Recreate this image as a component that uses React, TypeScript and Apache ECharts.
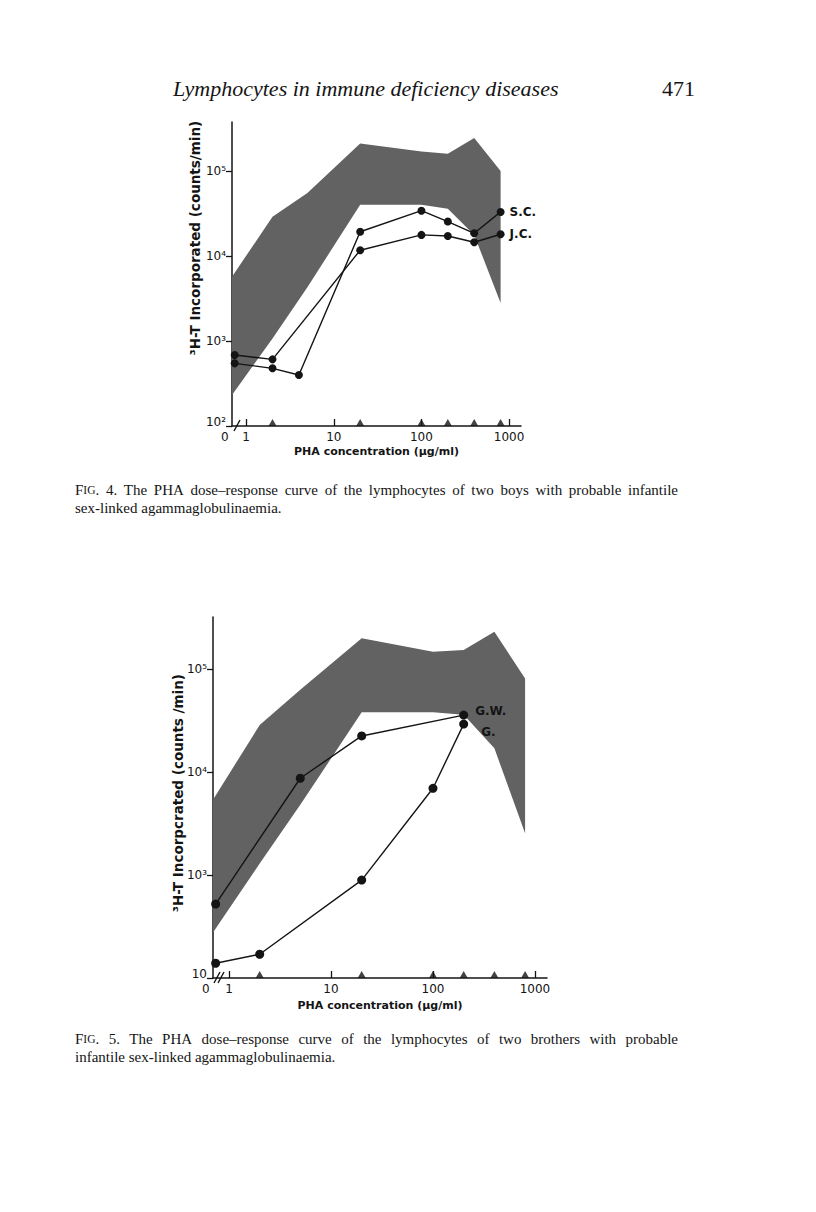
import React, { useEffect, useRef } from 'react';
import * as echarts from 'echarts';

// ---------- data ----------
const DOSE_TICKS = [1, 10, 100, 1000];
const ZERO_DOSE = 0.74; // plotting position of the "0" (no PHA) dose, left of the axis break
const TRIANGLE_DOSES = [2, 20, 100, 200, 400, 800];
const Y_TICKS = [100, 1000, 10000, 100000];
const F4_Y_LABELS = ['10²', '10³', '10⁴', '10⁵'];
const F5_Y_LABELS = ['10', '10³', '10⁴', '10⁵'];

// normal range band (doses)
const BAND_X = [0.69, 2, 5, 20, 100, 200, 400, 800];
// Fig. 4
const F4_BAND_HI = [5700, 29000, 55000, 210000, 170000, 160000, 245000, 100000];
const F4_BAND_LO = [232, 1070, 4300, 40000, 40000, 36000, 17700, 2800];
const F4_SC_X = [ZERO_DOSE, 2, 4, 20, 100, 200, 400, 800];
const F4_SC_Y = [546, 477, 398, 19300, 34100, 25400, 18500, 33000];
const F4_JC_X = [ZERO_DOSE, 2, 20, 100, 200, 400, 800];
const F4_JC_Y = [684, 608, 11700, 17700, 17200, 14500, 18000];
// Fig. 5
const F5_BAND_HI = [5300, 28600, 63000, 199000, 147000, 153000, 230000, 81000];
const F5_BAND_LO = [272, 1290, 4800, 38000, 38000, 36000, 17000, 2540];
const F5_A_X = [ZERO_DOSE, 5, 20, 200];
const F5_A_Y = [522, 8700, 22400, 35700];
const F5_B_X = [ZERO_DOSE, 2, 20, 100, 200];
const F5_B_Y = [139, 170, 893, 6950, 29200];

const CAP4_L1 = 'The PHA dose–response curve of the lymphocytes of two boys with probable infantile';
const CAP4_L2 = 'sex-linked agammaglobulinaemia.';
const CAP5_L1 = 'The PHA dose–response curve of the lymphocytes of two brothers with probable';
const CAP5_L2 = 'infantile sex-linked agammaglobulinaemia.';

// ---------- layout ----------
const G1 = { left: 232, top: 122, width: 289, height: 304 };
const G2 = { left: 213, top: 617, width: 334, height: 361 };
const X1 = { min: 0.69, max: 1367 };
const X2 = { min: 0.697, max: 1312 };
const Y1MAX = 377000;
const Y2MAX = 320000;

const SANS = '"DejaVu Sans", "Liberation Sans", sans-serif';
const SERIF_NAME = 'Liberation Serif';
const SERIF = '"Liberation Serif", "Times New Roman", serif';
const INK = '#141414';
const CAP_SIZE = 15;
const SC_SIZE = 11.5;
const CAP_X0 = 75;
const CAP_X1 = 678;

function zip(xs: number[], ys: number[]) {
  return xs.map((x, i) => [x, ys[i]]);
}

let measureCtx: CanvasRenderingContext2D | null = null;
function measure(text: string, size: number) {
  if (!measureCtx) measureCtx = document.createElement('canvas').getContext('2d');
  if (!measureCtx) return text.length * size * 0.45;
  measureCtx.font = `${size}px "${SERIF_NAME}"`;
  return measureCtx.measureText(text).width;
}

function bandSeries(idx: number, xs: number[], lo: number[], hi: number[]) {
  return {
    type: 'custom',
    xAxisIndex: idx,
    yAxisIndex: idx,
    silent: true,
    z: 1,
    clip: true,
    data: xs.map((x, i) => [x, lo[i], hi[i]]),
    encode: { x: 0, y: [1, 2] },
    renderItem: (params: any, api: any) => {
      if (params.dataIndex !== 0) return null;
      const pts: number[][] = [];
      for (let i = 0; i < xs.length; i++) pts.push(api.coord([xs[i], hi[i]]));
      for (let i = xs.length - 1; i >= 0; i--) pts.push(api.coord([xs[i], lo[i]]));
      return {
        type: 'polygon',
        shape: { points: pts },
        style: { fill: '#626262' },
      };
    },
  };
}

function lineSeries(idx: number, xs: number[], ys: number[], label: string, size: number, labelOffset: number[]) {
  const data: any[] = zip(xs, ys);
  const last = data.length - 1;
  data[last] = {
    value: data[last],
    label: {
      show: true,
      position: 'right',
      distance: 5,
      offset: labelOffset,
      formatter: label,
      color: INK,
      fontFamily: SANS,
      fontSize: 12,
      fontWeight: 'bold',
    },
  };
  return {
    type: 'line',
    xAxisIndex: idx,
    yAxisIndex: idx,
    z: 3,
    data,
    symbol: 'circle',
    symbolSize: size,
    showSymbol: true,
    clip: false,
    lineStyle: { color: INK, width: 1.4 },
    itemStyle: { color: INK },
  };
}

function triangleSeries(idx: number) {
  return {
    type: 'scatter',
    xAxisIndex: idx,
    yAxisIndex: idx,
    z: 4,
    clip: false,
    symbol: 'triangle',
    symbolSize: [8, 7],
    symbolOffset: [0, -3.5],
    itemStyle: { color: INK },
    data: TRIANGLE_DOSES.map((d) => [d, 100]),
  };
}

function xAxis(idx: number, ext: { min: number; max: number }, gap: number) {
  return {
    type: 'log',
    logBase: 10,
    gridIndex: idx,
    min: ext.min,
    max: ext.max,
    name: 'PHA concentration (μg/ml)',
    nameLocation: 'middle',
    nameGap: gap,
    nameTextStyle: { color: INK, fontFamily: SANS, fontSize: 11, fontWeight: 'bold' },
    axisLine: { show: true, lineStyle: { color: INK, width: 1.5 } },
    axisTick: {
      show: true,
      inside: true,
      length: 7,
      customValues: DOSE_TICKS,
      lineStyle: { color: INK, width: 1.3 },
    },
    axisLabel: {
      show: true,
      customValues: [ext.min * 1.02, ...DOSE_TICKS],
      formatter: (v: number) => (v < 1 ? '{z|0}' : String(Math.round(v))),
      rich: { z: { padding: [0, 16, 0, 0], fontSize: 12, fontFamily: SANS, color: INK } },
      margin: 5,
      color: INK,
      fontFamily: SANS,
      fontSize: 12,
    },
    splitLine: { show: false },
  };
}

function yAxis(idx: number, max: number, labels: string[]) {
  return {
    type: 'log',
    logBase: 10,
    gridIndex: idx,
    min: 100,
    max,
    axisLine: { show: true, lineStyle: { color: INK, width: 1.5 } },
    axisTick: {
      show: true,
      inside: false,
      length: 6,
      customValues: Y_TICKS,
      lineStyle: { color: INK, width: 1.3 },
    },
    axisLabel: {
      show: true,
      customValues: Y_TICKS,
      formatter: (v: number) => {
        const i = Y_TICKS.findIndex((t) => Math.abs(Math.log10(t) - Math.log10(v)) < 0.01);
        if (i < 0) return '';
        return i === 0 ? `{lo|${labels[i]}}` : labels[i];
      },
      rich: { lo: { padding: [0, 0, 9, 0], fontSize: 12, fontFamily: SANS, color: INK } },
      margin: 6,
      color: INK,
      fontFamily: SANS,
      fontSize: 12,
    },
    splitLine: { show: false },
  };
}

// justified first line + ragged last line, like the printed captions
function caption(y: number, num: string, line1: string, line2: string) {
  const rich = {
    a: { fontSize: CAP_SIZE, fontFamily: SERIF, color: INK },
    b: { fontSize: SC_SIZE, fontFamily: SERIF, color: INK },
  };
  const words = [`${num}.`, ...line1.split(' ')];
  const firstW = measure('F', CAP_SIZE) + measure('IG', SC_SIZE) + measure('.', CAP_SIZE);
  const widths = words.map((w) => measure(w, CAP_SIZE));
  const total = firstW + widths.reduce((s, w) => s + w, 0);
  const gap = (CAP_X1 - CAP_X0 - total) / words.length;
  const els: any[] = [
    {
      type: 'text',
      x: CAP_X0,
      y,
      style: { text: '{a|F}{b|IG}{a|.}', rich, fill: INK, textVerticalAlign: 'top' },
    },
  ];
  let x = CAP_X0 + firstW + gap;
  words.forEach((w, i) => {
    els.push({
      type: 'text',
      x,
      y,
      style: { text: w, fontFamily: SERIF, fontSize: CAP_SIZE, fill: INK, textVerticalAlign: 'top' },
    });
    x += widths[i] + gap;
  });
  els.push({
    type: 'text',
    x: CAP_X0,
    y: y + 18,
    style: { text: line2, fontFamily: SERIF, fontSize: CAP_SIZE, fill: INK, textVerticalAlign: 'top' },
  });
  return els;
}

function slash(x: number, y: number) {
  return {
    type: 'line',
    shape: { x1: x - 3, y1: y + 5, x2: x + 3, y2: y - 6 },
    style: { stroke: INK, lineWidth: 1.4 },
    z: 10,
  };
}

function yTitle(x: number, y: number, text: string) {
  return {
    type: 'text',
    x,
    y,
    rotation: Math.PI / 2,
    style: {
      text,
      fontFamily: SANS,
      fontSize: 13.5,
      fontWeight: 'bold',
      fill: INK,
      textAlign: 'center',
      textVerticalAlign: 'middle',
    },
  };
}

export default function App() {
  const ref = useRef<HTMLDivElement>(null);

  useEffect(() => {
    if (!ref.current) return;
    const chart = echarts.init(ref.current, null, { renderer: 'svg' });
    const b1 = G1.top + G1.height;
    const b2 = G2.top + G2.height;
    chart.setOption({
      animation: false,
      backgroundColor: '#ffffff',
      grid: [
        { ...G1, containLabel: false },
        { ...G2, containLabel: false },
      ],
      xAxis: [xAxis(0, X1, 20), xAxis(1, X2, 22)],
      yAxis: [yAxis(0, Y1MAX, F4_Y_LABELS), yAxis(1, Y2MAX, F5_Y_LABELS)],
      series: [
        bandSeries(0, BAND_X, F4_BAND_LO, F4_BAND_HI),
        lineSeries(0, F4_SC_X, F4_SC_Y, 'S.C.', 8, [0, 0]),
        lineSeries(0, F4_JC_X, F4_JC_Y, 'J.C.', 8, [0, 0]),
        triangleSeries(0),
        bandSeries(1, BAND_X, F5_BAND_LO, F5_BAND_HI),
        lineSeries(1, F5_A_X, F5_A_Y, 'G.W.', 9, [2, -4]),
        lineSeries(1, F5_B_X, F5_B_Y, 'G.', 9, [8, 8]),
        triangleSeries(1),
      ],
      graphic: [
        {
          type: 'text',
          x: 173,
          y: 77,
          style: {
            text: 'Lymphocytes in immune deficiency diseases',
            fontFamily: SERIF,
            fontStyle: 'italic',
            fontSize: 22,
            fill: INK,
            textVerticalAlign: 'top',
          },
        },
        {
          type: 'text',
          x: 662,
          y: 77,
          style: { text: '471', fontFamily: SERIF, fontSize: 22, fill: INK, textVerticalAlign: 'top' },
        },
        yTitle(G1.left - 37, 238, '³H-T Incorporated (counts/min)'),
        yTitle(G2.left - 35, 793, '³H-T Incorpcrated (counts /min)'),
        slash(G1.left + 5, b1),
        slash(G2.left + 4, b2),
        slash(G2.left + 8, b2),
        ...caption(482, '4', CAP4_L1, CAP4_L2),
        ...caption(1031, '5', CAP5_L1, CAP5_L2),
      ],
    });
    return () => chart.dispose();
  }, []);

  return (
    <div
      ref={ref}
      style={{ position: 'absolute', left: 0, top: 0, width: 816, height: 1212, background: '#fff' }}
    />
  );
}
